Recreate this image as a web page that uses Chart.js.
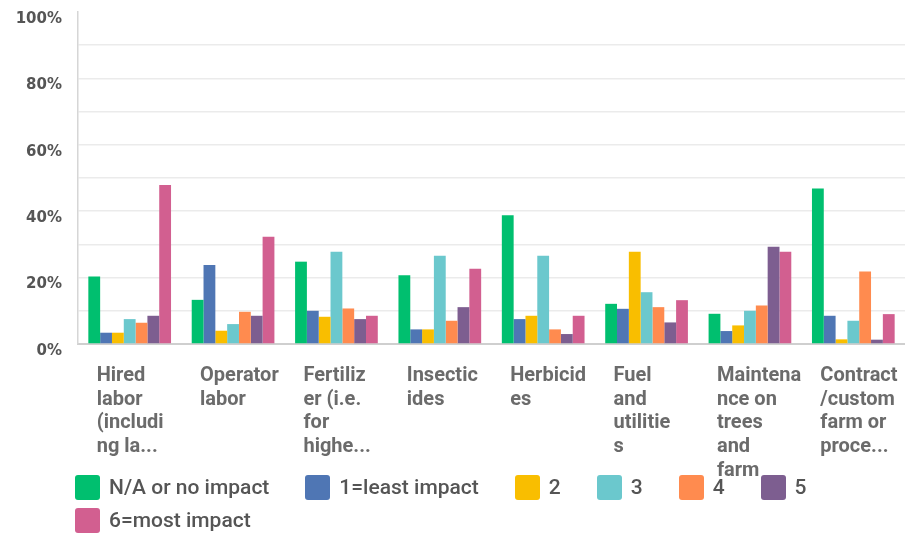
<!DOCTYPE html>
<html>
<head>
<meta charset="utf-8">
<script src="https://cdn.jsdelivr.net/npm/chart.js@4.4.0/dist/chart.umd.min.js"></script>
<style>
  body { margin: 0; background: #fff; }
  #wrap { position: relative; width: 905px; height: 534px; }
  #legend { position: absolute; left: 75px; top: 475px; width: 830px;
    display: flex; flex-wrap: wrap; column-gap: 36px; row-gap: 7.5px;
    font-family: Roboto, sans-serif; font-weight: 500; font-size: 21px; color: #555; }
  .item { display: flex; align-items: center; height: 25px; line-height: 25px; }
  .box { width: 25px; height: 25px; border-radius: 3px; margin-right: 9px; }
</style>
</head>
<body>
<div id="wrap">
  <canvas id="grafica" width="905" height="534"></canvas>
  <div id="legend"></div>
</div>
<script>
// categorias (ya cortadas en lineas como en la imagen)
var categorias = [
  ['Hired', 'labor', '(includi', 'ng la...'],
  ['Operator', 'labor'],
  ['Fertiliz', 'er (i.e.', 'for', 'highe...'],
  ['Insectic', 'ides'],
  ['Herbicid', 'es'],
  ['Fuel', 'and', 'utilitie', 's'],
  ['Maintena', 'nce on', 'trees', 'and', 'farm'],
  ['Contract', '/custom', 'farm or', 'proce...']
];

var series = ['N/A or no impact', '1=least impact', '2', '3', '4', '5', '6=most impact'];
var colores = ['#00BF6F', '#4F76B4', '#F9BE00', '#6BC8CD', '#FF8B4F', '#7D5E90', '#D25F90'];

// porcentajes
var sinImpacto = [20.3, 13.3, 24.8, 20.7, 38.8, 12.1, 9.1, 46.8];
var impacto1   = [3.4, 23.8, 10.0, 4.4, 7.5, 10.6, 3.9, 8.5];
var impacto2   = [3.4, 4.0, 8.2, 4.4, 8.5, 27.8, 5.6, 1.4];
var impacto3   = [7.5, 6.0, 27.8, 26.6, 26.6, 15.6, 10.0, 7.0];
var impacto4   = [6.4, 9.7, 10.7, 7.0, 4.4, 11.1, 11.6, 21.8];
var impacto5   = [8.5, 8.5, 7.5, 11.1, 3.0, 6.5, 29.3, 1.3];
var impacto6   = [47.9, 32.3, 8.5, 22.7, 8.5, 13.2, 27.8, 9.0];

var etiquetasY = ['0%', '20%', '40%', '60%', '80%', '100%'];

var valores = [sinImpacto, impacto1, impacto2, impacto3, impacto4, impacto5, impacto6];
var datasets = [];
for (var i = 0; i < series.length; i++) {
    datasets.push({
        label: series[i],
        data: valores[i],
        backgroundColor: colores[i],
        borderWidth: 0,
        barPercentage: 1.0,
        categoryPercentage: 0.8
    });
}

var ctx = document.getElementById('grafica').getContext('2d');
var chart = new Chart(ctx, {
    type: 'bar',
    data: {
        labels: categorias,
        datasets: datasets
    },
    options: {
        responsive: false,
        animation: false,
        devicePixelRatio: 1,
        layout: { padding: { top: 12, left: 0, right: -6, bottom: 0 } },
        plugins: {
            legend: { display: false },
            tooltip: { enabled: false }
        },
        scales: {
            x: {
                grid: { display: false, drawTicks: false },
                border: { color: '#cfcfcf', width: 2 },
                ticks: {
                    align: 'start',
                    labelOffset: -33,
                    padding: 20,
                    maxRotation: 0,
                    autoSkip: false,
                    color: '#6b6b6b',
                    font: { family: 'Roboto', weight: 'bold', size: 20, lineHeight: 1.185 }
                },
                afterFit: function(scale) {
                    scale.height = 190;
                    scale.paddingLeft = 0;
                    scale.paddingRight = 0;
                }
            },
            y: {
                min: 0,
                max: 100,
                grid: {
                    drawTicks: false,
                    lineWidth: 1.5,
                    color: function(c) {
                        if (c.tick && (c.tick.value === 100 || c.tick.value === 0)) return 'rgba(0,0,0,0)';
                        return '#ebebeb';
                    }
                },
                border: { color: '#d6d6d6', width: 1.5 },
                ticks: {
                    stepSize: 10,
                    padding: 16,
                    labelOffset: 7,
                    color: '#555',
                    font: { family: 'DejaVu Sans', weight: 'bold', size: 15 },
                    callback: function(v) {
                        return v % 20 === 0 ? etiquetasY[v / 20] : '';
                    }
                },
                afterFit: function(scale) {
                    scale.width = 78;
                    scale.paddingTop = 0;
                    scale.paddingBottom = 0;
                }
            }
        }
    }
});

// leyenda en html
var leyenda = document.getElementById('legend');
for (var j = 0; j < series.length; j++) {
    var item = document.createElement('div');
    item.className = 'item';
    item.innerHTML = '<span class="box" style="background:' + colores[j] + '"></span><span>' + series[j] + '</span>';
    leyenda.appendChild(item);
}
</script>
</body>
</html>
